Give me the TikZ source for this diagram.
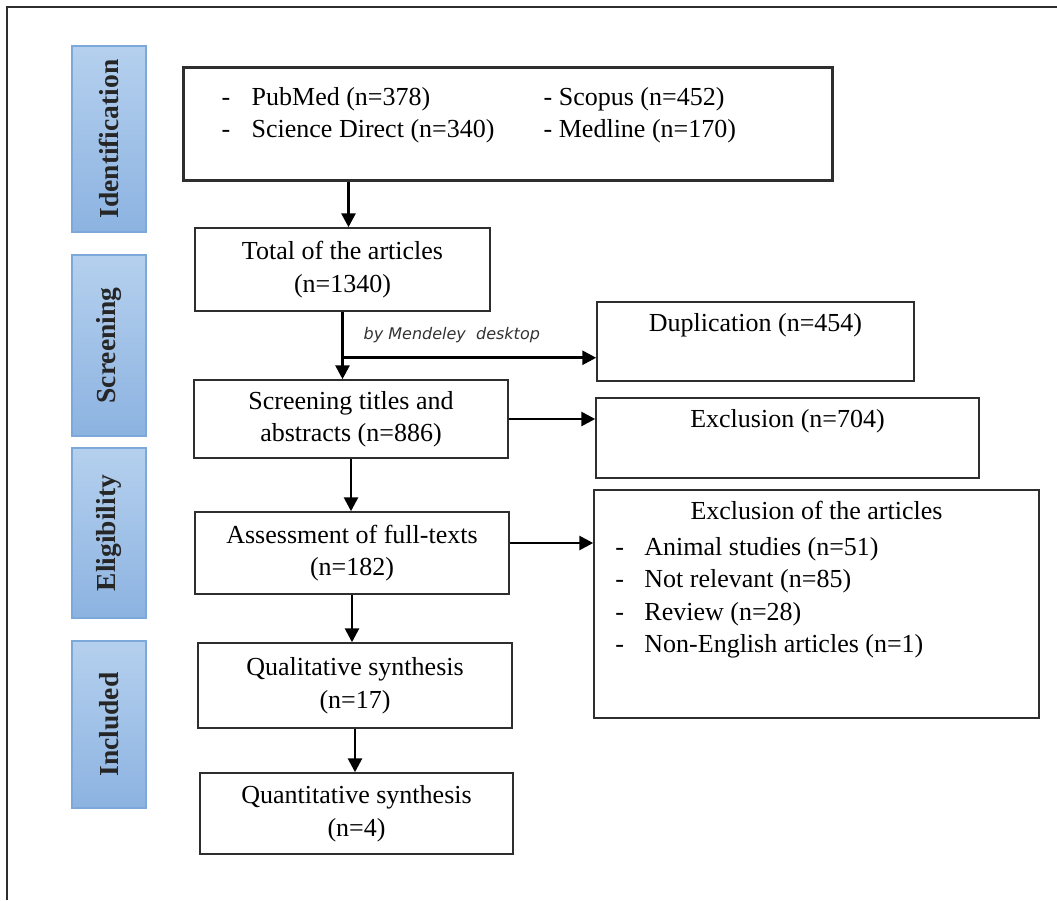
\documentclass[tikz,border=0pt]{standalone}
\usepackage{fontspec}
\setmainfont{Liberation Serif}
\newfontfamily\notefont{DejaVu Sans}
\usetikzlibrary{positioning,arrows.meta}
\definecolor{flowline}{HTML}{2E2E2E}
\definecolor{phasetop}{HTML}{B5D0EE}
\definecolor{phasebot}{HTML}{8CB3E1}
\definecolor{phaseedge}{HTML}{7DA8DA}

\begin{document}
\begin{tikzpicture}[
  x=1pt, y=-1pt,
  >={Triangle[length=14pt,width=14pt]},
  font=\fontsize{26}{32.5}\selectfont,
  phase/.style={draw=phaseedge, line width=1.3pt, top color=phasetop, bottom color=phasebot, minimum width=74pt, inner sep=0pt, text=black!85, font=\bfseries\fontsize{27.5}{30}\selectfont},
  recbox/.style={draw=flowline, line width=1.5pt, align=center, inner sep=0pt},
  recboxB/.style={recbox, line width=3pt},
  flow/.style={->, line width=2.8pt, color=black},
  note/.style={font=\notefont\itshape\fontsize{16}{19}\selectfont, inner sep=0pt, text=black!80}
]
\useasboundingbox (0,0) rectangle (1057,900);
\draw[line width=1.2pt, flowline] (7,900) -- (7,7) -- (1057,7);

% phases
\node[phase, minimum height=186pt] (pI) at (109,139) {\rotatebox{90}{Identification}};
\node[phase, minimum height=181pt] (pS) at (109,345.5) {\rotatebox{90}{Screening}};
\node[phase, minimum height=170pt] (pE) at (109,533) {\rotatebox{90}{Eligibility}};
\node[phase, minimum height=167pt] (pN) at (109,724.5) {\rotatebox{90}{Included}};

% main flow
\node[recboxB, minimum width=649pt, minimum height=113pt] (src) at (507.5,123.5) {};
\node[anchor=north west, inner sep=0pt] (srclist) at ([xshift=40pt,yshift=-17pt]src.north west) {\begin{tabular}{@{}p{30pt}@{}p{292pt}@{}l@{}}
  - & PubMed (n=378) & - Scopus (n=452)\\
  - & Science Direct (n=340) & - Medline (n=170)
\end{tabular}};
\node[recbox, minimum width=295pt, minimum height=83pt] (total) at (342.5,269.5) {Total of the articles\\(n=1340)};
\node[recbox, minimum width=314pt, minimum height=78pt] (scr) at (351,419) {Screening titles and\\abstracts (n=886)};
\node[recbox, minimum width=314pt, minimum height=82pt] (full) at (352,553) {Assessment of full-texts\\(n=182)};
\node[recbox, minimum width=314pt, minimum height=85pt] (qual) at (355,685.5) {Qualitative synthesis\\(n=17)};
\node[recbox, minimum width=313pt, minimum height=81pt] (quant) at (356.5,813.5) {Quantitative synthesis\\(n=4)};

% removed records
\node[recbox, minimum width=317pt, minimum height=79pt] (dup) at (755.5,341.5) {};
\node[below=12pt of dup.north, inner sep=0pt] (duptext) {Duplication (n=454)};
\node[recbox, minimum width=383pt, minimum height=80pt] (excl) at (787.5,438) {};
\node[below=12pt of excl.north, inner sep=0pt] (excltext) {Exclusion (n=704)};
\node[recbox, minimum width=445pt, minimum height=228pt] (exfull) at (816.5,604) {};
\node[below=12pt of exfull.north, inner sep=0pt] (exfulltitle) {Exclusion of the articles};
\node[anchor=north west, inner sep=0pt] (exfulllist) at ([xshift=22pt,yshift=-43pt]exfull.north west) {\begin{tabular}{@{}p{29pt}@{}l@{}}
  - & Animal studies (n=51)\\
  - & Not relevant (n=85)\\
  - & Review (n=28)\\
  - & Non-English articles (n=1)
\end{tabular}};

\coordinate (split) at ([yshift=-46pt]total.south);
\node[note, anchor=base west] (mend) at ([xshift=21pt,yshift=18pt]split) {by Mendeley\ \ desktop};

\draw[flow] ([xshift=6pt]total.north |- src.south) -- ([xshift=6pt]total.north);
\draw[flow] (total.south) -- (total.south |- scr.north);
\draw[flow] (split) -- (split -| dup.west);
\draw[flow] (scr.east) -- (scr.east -| excl.west);
\draw[flow] (scr.south) -- (scr.south |- full.north);
\draw[flow] ([yshift=10pt]full.east) -- ([yshift=10pt]full.east -| exfull.west);
\draw[flow] (full.south) -- (full.south |- qual.north);
\draw[flow] (qual.south) -- (qual.south |- quant.north);
\end{tikzpicture}
\end{document}
